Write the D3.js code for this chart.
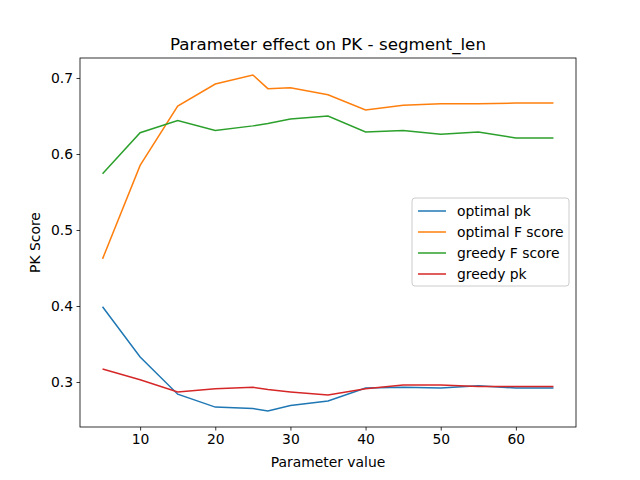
<!DOCTYPE html><html><head><meta charset="utf-8"><script src="https://cdn.jsdelivr.net/npm/d3@7"></script>
<style>body{margin:0;background:#fff}text{font-family:"DejaVu Sans",sans-serif;fill:#000}</style></head><body>
<svg id="c" width="640" height="480"></svg>
<script>
const xs=[5,10,15,20,25,27,30,35,40,45,50,55,60,65];
const optimalPk=[0.399,0.333,0.284,0.267,0.265,0.262,0.269,0.275,0.292,0.293,0.292,0.295,0.292,0.292];
const optimalF=[0.462,0.585,0.663,0.692,0.704,0.686,0.687,0.678,0.658,0.664,0.666,0.666,0.667,0.667];
const greedyF=[0.574,0.628,0.644,0.631,0.637,0.640,0.646,0.650,0.629,0.631,0.626,0.629,0.621,0.621];
const greedyPk=[0.317,0.303,0.287,0.291,0.293,0.290,0.287,0.283,0.291,0.296,0.296,0.294,0.294,0.294];
const names=["optimal pk","optimal F score","greedy F score","greedy pk"];
const colors=["#1f77b4","#ff7f0e","#2ca02c","#d62728"];
const xTicks=[10,20,30,40,50,60], yTicks=[0.3,0.4,0.5,0.6,0.7];
const series=[optimalPk,optimalF,greedyF,greedyPk];
const L=80,R=576,T=58,B=427;
const svg=d3.select("#c");
const x=d3.scaleLinear().domain([2,68]).range([L,R]);
const y=d3.scaleLinear().domain([0.2408,0.7263]).range([B,T]);
const line=d3.line().x((d,i)=>x(xs[i])).y(d=>y(d));
series.forEach((s,k)=>svg.append("path").attr("d",line(s)).attr("fill","none").attr("stroke",colors[k]).attr("stroke-width",1.5));
const ax=svg.append("g").attr("transform",`translate(0,${B})`).call(d3.axisBottom(x).tickValues(xTicks).tickSize(3.5).tickPadding(3.5));
const ay=svg.append("g").attr("transform",`translate(${L},0)`).call(d3.axisLeft(y).tickValues(yTicks).tickFormat(d3.format(".1f")).tickSize(3.5).tickPadding(3.5));
[ax,ay].forEach(a=>{a.select(".domain").remove();a.selectAll("text").style("font-size","13.9px").style("font-family","DejaVu Sans");a.selectAll("line").attr("stroke","#000").attr("stroke-width",0.8);});
svg.append("rect").attr("x",L).attr("y",T).attr("width",R-L).attr("height",B-T).attr("fill","none").attr("stroke","#000").attr("stroke-width",0.8);
svg.append("text").attr("x",(L+R)/2).attr("y",50).attr("text-anchor","middle").style("font-size","16.7px").text("Parameter effect on PK - segment_len");
svg.append("text").attr("x",(L+R)/2).attr("y",467).attr("text-anchor","middle").style("font-size","13.9px").text("Parameter value");
svg.append("text").attr("transform",`translate(40,${(T+B)/2}) rotate(-90)`).attr("text-anchor","middle").style("font-size","13.9px").text("PK Score");
const lg=svg.append("g");
lg.append("rect").attr("x",412).attr("y",198).attr("width",157).attr("height",88).attr("rx",3).attr("fill","#fff").attr("fill-opacity",0.8).attr("stroke","#ccc");
names.forEach((n,i)=>{const yy=211+i*21;
lg.append("line").attr("x1",418).attr("x2",446).attr("y1",yy).attr("y2",yy).attr("stroke",colors[i]).attr("stroke-width",1.5);
lg.append("text").attr("x",457).attr("y",yy+5).style("font-size","13.9px").text(n);});
</script></body></html>
